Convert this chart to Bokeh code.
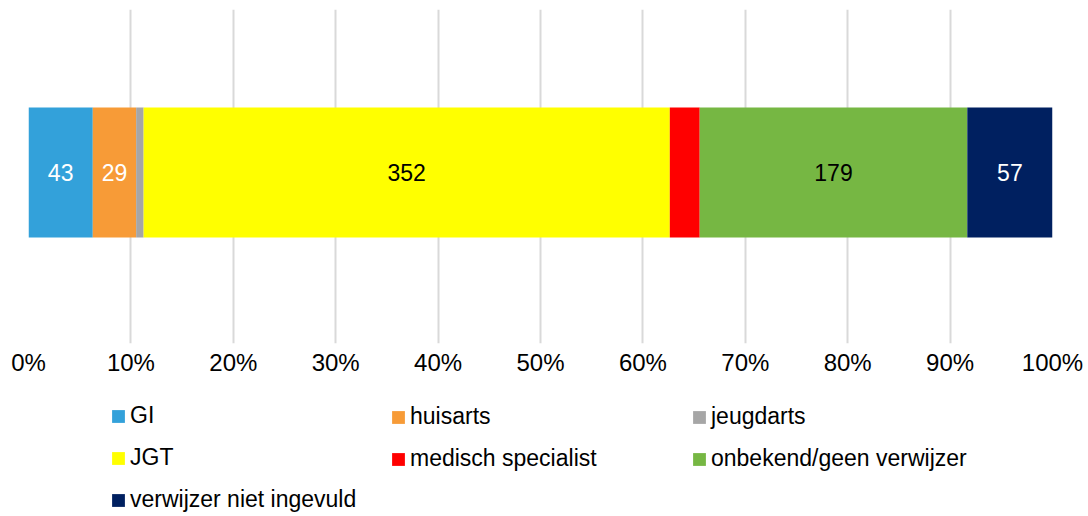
from bokeh.plotting import figure
from bokeh.layouts import column
from bokeh.models import (ColumnDataSource, Range1d, FixedTicker, NumeralTickFormatter,
                          Legend, LegendItem)
from bokeh.core.properties import value
from bokeh.embed import file_html
from bokeh.resources import INLINE

# ---- data ----
categories = ["GI", "huisarts", "jeugdarts", "JGT", "medisch specialist",
              "onbekend/geen verwijzer", "verwijzer niet ingevuld"]
counts = [43, 29, 5, 352, 20, 179, 57]
colors = ["#33A1DA", "#F79B37", "#A6A6A6", "#FFFF00", "#FF0000", "#76B743", "#002060"]
label_colors = ["#FFFFFF", "#FFFFFF", "#000000", "#000000", "#000000", "#000000", "#FFFFFF"]
show_label = [True, True, False, True, False, True, True]
tick_values = [0.0, 0.1, 0.2, 0.3, 0.4, 0.5, 0.6, 0.7, 0.8, 0.9, 1.0]
legend_columns = [[0, 3, 6], [1, 4], [2, 5]]

FONT = "Liberation Sans"

total = float(sum(counts))
lefts, rights = [], []
acc = 0.0
for c in counts:
    lefts.append(acc / total)
    acc += c
    rights.append(acc / total)

src = ColumnDataSource(dict(cat=categories, left=lefts, right=rights, color=colors))

lab_idx = [i for i, s in enumerate(show_label) if s]
lab_src = ColumnDataSource(dict(
    x=[(lefts[i] + rights[i]) / 2 for i in lab_idx],
    y=[0.0 for _ in lab_idx],
    text=[str(counts[i]) for i in lab_idx],
    color=[label_colors[i] for i in lab_idx],
))

# ---- main chart ----
p = figure(width=1088, height=390, output_backend="svg", toolbar_location=None,
           x_range=Range1d(0, 1), y_range=Range1d(-0.658, 0.627),
           min_border_left=28, min_border_right=36, min_border_top=9, min_border_bottom=47)
p.outline_line_color = None
p.background_fill_color = "#FFFFFF"
p.border_fill_color = "#FFFFFF"

bars = p.hbar(y=0, left="left", right="right", height=0.5, fill_color="color",
              line_color=None, source=src)

p.text(x="x", y="y", text="text", text_color="color", source=lab_src,
       text_align="center", text_baseline="middle",
       text_font=value(FONT), text_font_size="23px")

p.yaxis.visible = False
p.ygrid.grid_line_color = None
p.xgrid.grid_line_color = "#D9D9D9"
p.xgrid.grid_line_width = 2
p.xaxis.ticker = FixedTicker(ticks=tick_values)
p.xaxis.formatter = NumeralTickFormatter(format="0%")
p.xaxis.axis_line_color = None
p.xaxis.major_tick_line_color = None
p.xaxis.minor_tick_line_color = None
p.xaxis.major_tick_in = 0
p.xaxis.major_tick_out = 0
p.xaxis.major_label_text_font = FONT
p.xaxis.major_label_text_font_size = "24px"
p.xaxis.major_label_text_color = "#000000"
p.xaxis.major_label_standoff = 5

# ---- legend strip ----
q = figure(width=1088, height=126, output_backend="svg", toolbar_location=None,
           x_range=Range1d(0, 1), y_range=Range1d(-0.658, 0.627),
           x_axis_type=None, y_axis_type=None,
           min_border_left=0, min_border_right=0, min_border_top=0, min_border_bottom=0)
q.outline_line_color = None
q.grid.visible = False
q.background_fill_color = "#FFFFFF"
q.border_fill_color = "#FFFFFF"
leg_bars = q.hbar(y=0, left="left", right="right", height=0.5, fill_color="color",
                  line_color=None, source=src, visible=False)

legend_locs = [(82, 3), (362, 44), (663, 44)]
for idxs, loc in zip(legend_columns, legend_locs):
    items = [LegendItem(label=categories[i], renderers=[leg_bars], index=i) for i in idxs]
    leg = Legend(items=items, location=loc, orientation="vertical",
                 glyph_width=16, glyph_height=16, label_standoff=4,
                 label_height=27, spacing=15, padding=0, margin=0,
                 border_line_color=None, background_fill_alpha=0,
                 inactive_fill_alpha=0,
                 label_text_font=FONT, label_text_font_size="23px",
                 label_text_color="#000000")
    q.add_layout(leg)

layout = column(p, q, spacing=0)
open("out.html", "w").write(file_html(layout, INLINE))
